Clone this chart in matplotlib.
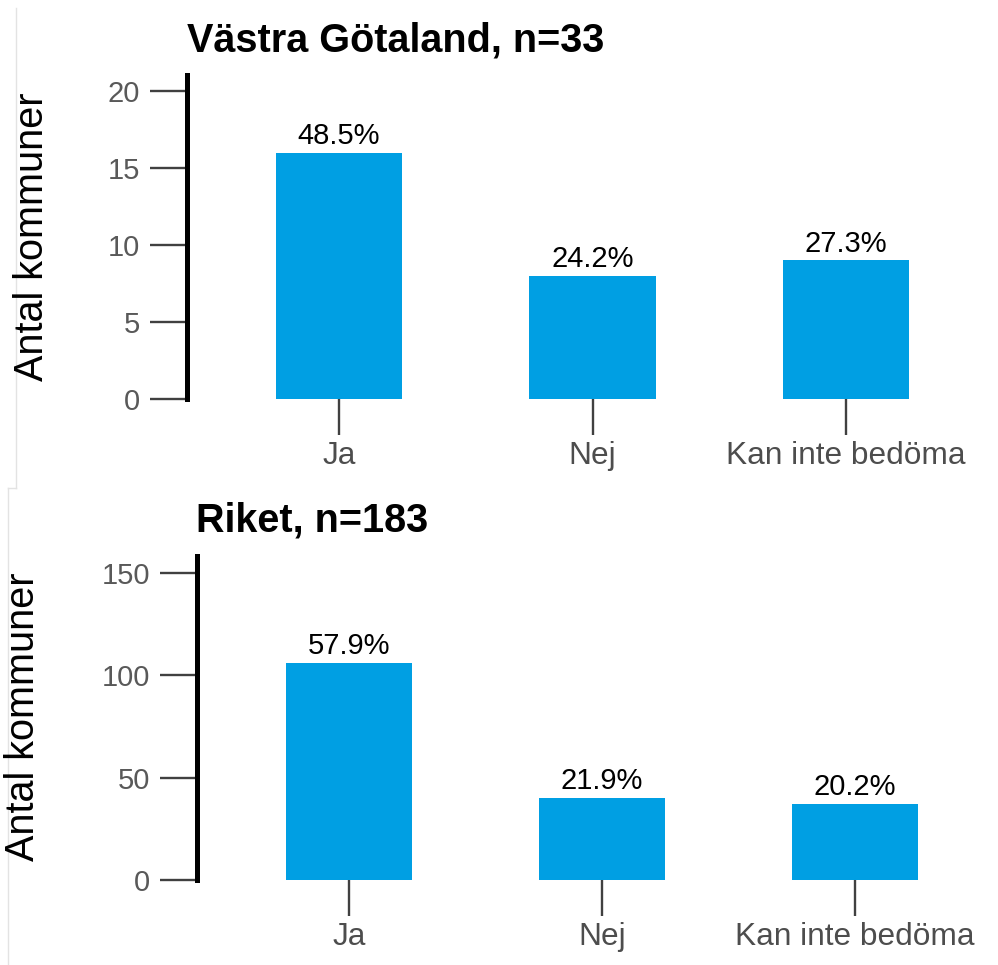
import matplotlib
matplotlib.use("Agg")
import matplotlib.pyplot as plt
from matplotlib.lines import Line2D

plt.rcParams['font.family'] = ['Liberation Sans', 'DejaVu Sans']

categories = ["Ja", "Nej", "Kan inte bedöma"]

vg_title = "Västra Götaland, n=33"
vg_counts = [16, 8, 9]
vg_pct = ["48.5%", "24.2%", "27.3%"]
vg_yticks = [0, 5, 10, 15, 20]

riket_title = "Riket, n=183"
riket_counts = [106, 40, 37]
riket_pct = ["57.9%", "21.9%", "20.2%"]
riket_yticks = [0, 50, 100, 150]

BAR_COLOR = "#009FE3"
W, H = 998, 965


def px_axes(left, bottom_px, top_px, right_px=W):
    # pixel positions (from top-left) -> figure fractions
    return [left / W, (H - bottom_px) / H, (right_px - left) / W, (bottom_px - top_px) / H]


def draw_panel(ax, title, counts, pct, yticks, ytop, xright, ylab_x, ylab_y, title_x, title_y):
    x = list(range(len(categories)))
    ax.bar(x, counts, width=0.5, color=BAR_COLOR, zorder=2)
    for xi, c, p in zip(x, counts, pct):
        ax.annotate(p, (xi, c), xytext=(0, 2), textcoords="offset points",
                    ha="center", va="bottom", fontsize=21, color="black")
    ax.set_xlim(-0.6, xright)
    ax.set_ylim(0, ytop)
    ax.set_yticks(yticks)
    ax.set_xticks(x)
    ax.set_xticklabels(categories)
    for s in ["top", "right", "bottom"]:
        ax.spines[s].set_visible(False)
    ax.spines["left"].set_linewidth(3.6)
    ax.spines["left"].set_color("black")
    ax.tick_params(axis="y", length=27, width=1.7, color="#404040",
                   labelsize=21, labelcolor="#595959", pad=7)
    ax.tick_params(axis="x", length=26, width=1.7, color="#404040",
                   labelsize=22.8, labelcolor="#4d4d4d", pad=4)
    fig.text(ylab_x / W, 1 - ylab_y / H, "Antal kommuner", rotation=90,
             ha="center", va="center", fontsize=28.5, color="black")
    fig.text(title_x / W, 1 - title_y / H, title, ha="left", va="center",
             fontsize=28.5, fontweight="bold", color="black")


fig = plt.figure(figsize=(W / 100, H / 100), dpi=100)

ax1 = fig.add_axes(px_axes(187, 399, 75))
draw_panel(ax1, vg_title, vg_counts, vg_pct, vg_yticks, 21.04, 2.6,
           32, 237, 187, 40)

ax2 = fig.add_axes(px_axes(197, 880, 556))
draw_panel(ax2, riket_title, riket_counts, riket_pct, riket_yticks, 158.3, (W - 197) / 253 - 0.6,
           23, 717, 196, 520)

# faint screenshot borders
border = "#e3e3e3"
fig.add_artist(Line2D([16 / W, 16 / W], [1 - 8 / H, 1 - 488 / H], color=border, lw=1))
fig.add_artist(Line2D([8 / W, 16 / W], [1 - 488 / H, 1 - 488 / H], color=border, lw=1))
fig.add_artist(Line2D([8 / W, 8 / W], [1 - 488 / H, 0], color=border, lw=1))

fig.savefig("out.png", dpi=100)
